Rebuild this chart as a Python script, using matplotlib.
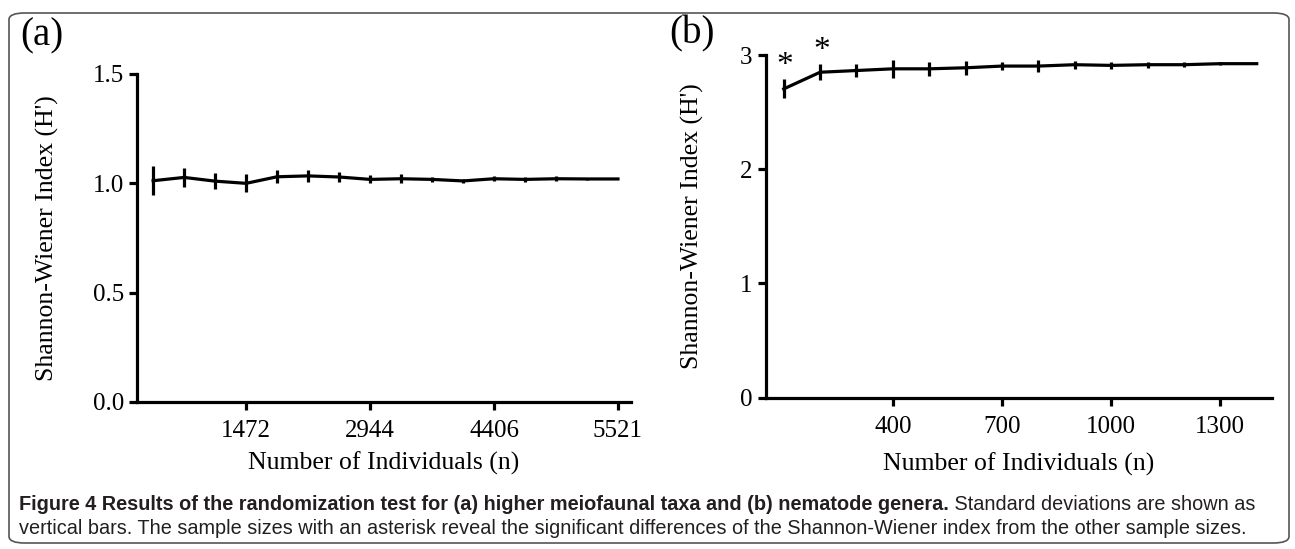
import numpy as np
import matplotlib
matplotlib.use("Agg")
import matplotlib.pyplot as plt
from matplotlib.patches import FancyBboxPatch
from matplotlib import font_manager

# (a) higher meiofaunal taxa: 16 sample sizes, only every 4th labelled
a_tick_labels = ["1472", "2944", "4406", "5521"]
a_mean = [1.012, 1.027, 1.010, 1.000, 1.030, 1.034, 1.029, 1.018, 1.021,
          1.018, 1.011, 1.021, 1.018, 1.021, 1.020, 1.020]
a_sd = [0.066, 0.042, 0.037, 0.041, 0.029, 0.026, 0.022, 0.018, 0.020,
        0.013, 0.011, 0.011, 0.013, 0.011, 0.005, 0.0]

# (b) nematode genera
b_n = [100, 200, 300, 400, 500, 600, 700, 800, 900, 1000, 1100, 1200, 1300, 1400]
b_mean = [2.703, 2.849, 2.864, 2.879, 2.879, 2.888, 2.903, 2.903, 2.915,
          2.909, 2.915, 2.915, 2.924, 2.924]
b_sd = [0.083, 0.068, 0.058, 0.079, 0.061, 0.059, 0.038, 0.050, 0.035,
        0.033, 0.026, 0.023, 0.012, 0.0]
b_sig = [100, 200]          # sample sizes marked with an asterisk
b_ticks = [400, 700, 1000, 1300]

caption_bold = ("Figure 4 Results of the randomization test for (a) higher "
                "meiofaunal taxa and (b) nematode genera.")
caption_l1 = " Standard deviations are shown as"
caption_l2 = ("vertical bars. The sample sizes with an asterisk reveal the significant "
              "differences of the Shannon-Wiener index from the other sample sizes.")

plt.rcParams["font.family"] = "serif"
plt.rcParams["font.serif"] = ["Liberation Serif", "DejaVu Serif"]

LW = 2.3
W, H = 1295, 549
fig = plt.figure(figsize=(W / 100, H / 100), dpi=100)

# rounded frame around figure + caption
fig.patches.append(FancyBboxPatch((9 / W, 6 / H), 1280 / W, 530 / H,
                                  boxstyle="round,pad=0,rounding_size=0.012",
                                  transform=fig.transFigure, fill=False,
                                  ec="#555555", lw=1.2))

axA = fig.add_axes([137 / W, 1 - 402 / H, 494 / W, 328 / H])
axB = fig.add_axes([765.5 / W, 1 - 397.5 / H, 506.5 / W, 342.5 / H])


def style(ax):
    for s in ("top", "right"):
        ax.spines[s].set_visible(False)
    for s in ("left", "bottom"):
        ax.spines[s].set_linewidth(LW)
    ax.tick_params(axis="both", direction="out", length=6, width=LW, labelsize=18)
    ax.tick_params(axis="x", pad=7)
    ax.tick_params(axis="y", pad=3.5)


# panel (a)
xa = np.arange(1, len(a_mean) + 1)
axA.errorbar(xa, a_mean, yerr=a_sd, color="black", lw=LW, elinewidth=LW, capsize=0)
axA.set_xlim(0.48, 16.42)
axA.set_ylim(0, 1.5)
axA.set_xticks(xa[3::4])
axA.set_xticklabels(a_tick_labels)
axA.set_yticks([0.0, 0.5, 1.0, 1.5])
axA.set_yticklabels(["0.0", "0.5", "1.0", "1.5"])
style(axA)

# panel (b)
axB.errorbar(b_n, b_mean, yerr=b_sd, color="black", lw=LW, elinewidth=LW, capsize=0)
for n in b_sig:
    i = b_n.index(n)
    axB.annotate("*", (n, b_mean[i] + b_sd[i]), xytext=(1, -1), textcoords="offset points",
                 ha="center", va="bottom", fontsize=24)
axB.set_xlim(50, 1442)
axB.set_ylim(0, 3)
axB.set_xticks(b_ticks)
axB.set_yticks([0, 1, 2, 3])
style(axB)

for ax, ylx, xly in ((axA, -0.158, -0.152), (axB, -0.121, -0.161)):
    ax.set_xlabel("Number of Individuals (n)", fontsize=18.5)
    ax.set_ylabel("Shannon-Wiener Index (H')", fontsize=18.5)
    ax.yaxis.set_label_coords(ylx, 0.5)
    ax.xaxis.set_label_coords(0.5, xly)

fig.text(42 / W, 1 - 36 / H, "(a)", fontsize=28, ha="center", va="center")
fig.text(692 / W, 1 - 34 / H, "(b)", fontsize=28, ha="center", va="center")

# caption, condensed sans if present; sized so line 1 fills the frame width
names = {f.name for f in font_manager.fontManager.ttflist}
cap_font = "Liberation Sans Narrow" if "Liberation Sans Narrow" in names else "Liberation Sans"
fs = 12.5
x0, y1, y2 = 19 / W, 1 - 505 / H, 1 - 528 / H
tb = fig.text(x0, y1, caption_bold, family=cap_font, fontweight="bold", fontsize=fs,
              va="center", color="#231f20")
tr = fig.text(x0, y1, caption_l1, family=cap_font, fontsize=fs, va="center", color="#231f20")
t2 = fig.text(x0, y2, caption_l2, family=cap_font, fontsize=fs, va="center", color="#231f20")
fig.canvas.draw()
r = fig.canvas.get_renderer()
w1 = tb.get_window_extent(r).width + tr.get_window_extent(r).width
scale = 1234 / w1
for t in (tb, tr, t2):
    t.set_fontsize(fs * scale)
fig.canvas.draw()
bw = tb.get_window_extent(r).width
tr.set_x(x0 + bw / W)

fig.savefig("out.png", dpi=100)
